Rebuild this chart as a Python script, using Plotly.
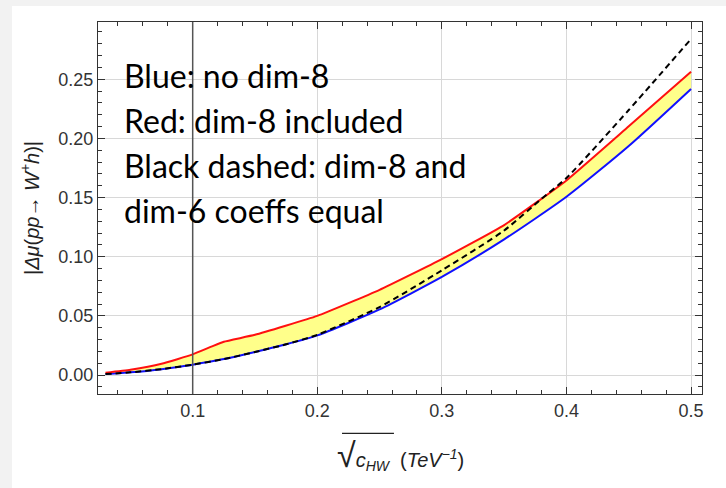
import plotly.graph_objects as go

# ---- data ----
x_blue = [0.03, 0.05, 0.075, 0.1, 0.125, 0.15, 0.175, 0.2, 0.25, 0.3, 0.35, 0.4, 0.45, 0.5]
y_blue = [0.0008, 0.0023, 0.0050, 0.0088, 0.0135, 0.0195, 0.026, 0.0335, 0.0555, 0.083, 0.1147, 0.1507, 0.1936, 0.2418]

x_red = [0.03, 0.05, 0.075, 0.1, 0.115, 0.125, 0.15, 0.2, 0.25, 0.3, 0.35, 0.4, 0.45, 0.5]
y_red = [0.0020, 0.0045, 0.0095, 0.0175, 0.0240, 0.0282, 0.0340, 0.0500, 0.0720, 0.0980, 0.1268, 0.1645, 0.2102, 0.2564]

x_dash = [0.03, 0.05, 0.075, 0.1, 0.125, 0.15, 0.175, 0.2, 0.25, 0.3, 0.35, 0.38, 0.4, 0.45, 0.5]
y_dash = [0.0008, 0.0023, 0.0050, 0.0088, 0.0135, 0.0195, 0.026, 0.0340, 0.0575, 0.0885, 0.1222, 0.1490, 0.1665, 0.2240, 0.2840]

x_ticks = [0.1, 0.2, 0.3, 0.4, 0.5]
x_ticklabels = ["0.1", "0.2", "0.3", "0.4", "0.5"]
y_ticks = [0.0, 0.05, 0.10, 0.15, 0.20, 0.25]
y_ticklabels = ["0.00", "0.05", "0.10", "0.15", "0.20", "0.25"]
x_range = [0.024, 0.5088]
y_range = [-0.016, 0.2984]
vline_x = 0.1

notes = ["Blue: no dim-8", "Red: dim-8 included", "Black dashed: dim-8 and", "dim-6 coeffs equal"]

fig = go.Figure()
fig.add_trace(go.Scatter(x=x_blue, y=y_blue, mode="lines", line=dict(color="#1010ff", width=2, shape="spline", smoothing=0.6),
                         showlegend=False, hoverinfo="skip"))
fig.add_trace(go.Scatter(x=x_red, y=y_red, mode="lines", line=dict(color="#ff1010", width=2, shape="spline", smoothing=0.4),
                         fill="tonexty", fillcolor="#ffff8a", showlegend=False, hoverinfo="skip"))
fig.add_trace(go.Scatter(x=x_dash, y=y_dash, mode="lines", line=dict(color="black", width=2, dash="6px,4px", shape="spline", smoothing=0.6),
                         showlegend=False, hoverinfo="skip"))

# white panel over gray page background
fig.add_shape(type="rect", xref="paper", yref="paper", x0=-0.1424, x1=1.05, y0=-0.27, y1=1.043,
              fillcolor="white", line=dict(width=0), layer="below")
# vertical reference line
fig.add_shape(type="line", xref="x", yref="paper", x0=vline_x, x1=vline_x, y0=0, y1=1,
              line=dict(color="#555555", width=1.5), layer="above")

for i, t in enumerate(notes):
    fig.add_annotation(text=t, xref="paper", yref="paper", x=0.0397, y=[0.855, 0.734, 0.614, 0.493][i],
                       xanchor="left", yanchor="middle", showarrow=False,
                       font=dict(family="Lato", size=32, color="black"))

# x-axis title with a drawn square-root overline
fig.add_annotation(text="<span style='font-size:34px'>√</span><i>c</i><sub><i>HW</i></sub>  (<i>TeV</i><sup>−<i>1</i></sup>)",
                   xref="paper", yref="paper", x=0.5, y=-0.165, xanchor="center", yanchor="middle",
                   showarrow=False, font=dict(family="Liberation Sans", size=20, color="#222222"))
fig.add_shape(type="line", xref="paper", yref="paper", x0=0.404, x1=0.49, y0=-0.106, y1=-0.106,
              line=dict(color="#222222", width=1.3))

axis_common = dict(showline=True, linecolor="#333333", linewidth=1.2, mirror="allticks",
                   ticks="inside", ticklen=7, tickwidth=1, tickcolor="#333333",
                   showgrid=True, gridcolor="#d8d8d8", gridwidth=1, zeroline=False,
                   tickfont=dict(family="Liberation Sans", size=18, color="#333333"))

fig.update_xaxes(range=x_range, tickvals=x_ticks, ticktext=x_ticklabels,
                 minor=dict(dtick=0.02, tick0=0, ticks="inside", ticklen=4, tickcolor="#333333", showgrid=False),
                 **axis_common)
fig.update_yaxes(range=y_range, tickvals=y_ticks, ticktext=y_ticklabels,
                 minor=dict(dtick=0.01, tick0=0, ticks="inside", ticklen=4, tickcolor="#333333", showgrid=False),
                 title=dict(text="|<i>Δμ</i>(<i>pp</i>→ <i>W</i><sup>+</sup><i>h</i>)|",
                            font=dict(family="Liberation Sans", size=20, color="#222222"), standoff=13),
                 **axis_common)

fig.update_layout(width=726, height=488, margin=dict(l=98, r=24, t=22, b=94, autoexpand=False),
                  paper_bgcolor="#f2f2f2", plot_bgcolor="white")

fig.write_html("out.html")
